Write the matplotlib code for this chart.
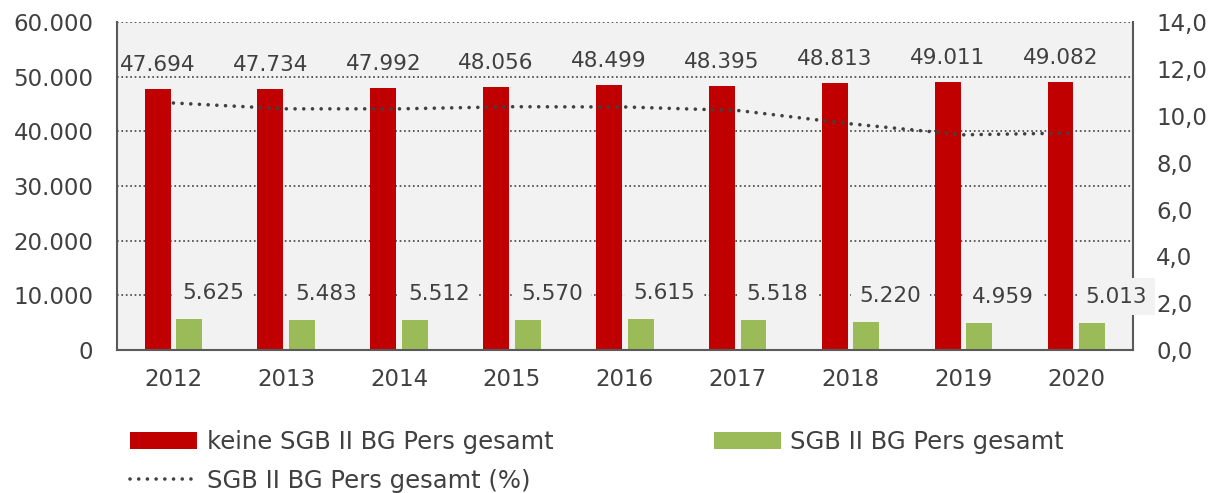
import matplotlib.pyplot as plt
from matplotlib.patches import Patch
from matplotlib.lines import Line2D
from matplotlib.ticker import FuncFormatter
import numpy as np

# Daten
years = ["2012", "2013", "2014", "2015", "2016", "2017", "2018", "2019", "2020"]
keine_sgb = [47694, 47734, 47992, 48056, 48499, 48395, 48813, 49011, 49082]
sgb = [5625, 5483, 5512, 5570, 5615, 5518, 5220, 4959, 5013]
sgb_pct = [10.55, 10.30, 10.30, 10.39, 10.38, 10.23, 9.66, 9.19, 9.27]

RED = "#C00000"
GREEN = "#9BBB59"
TXT = "#404040"
BG = "#F2F2F2"
DOTS = (0, (0.01, 2.4))

plt.rcParams["font.family"] = ["DejaVu Sans"]


def de_int(v, pos=None):
    return f"{int(v):,}".replace(",", ".")


def de_dec(v, pos=None):
    return f"{v:.1f}".replace(".", ",")


fig = plt.figure(figsize=(12.18, 4.93), dpi=100)
ax = fig.add_axes([0.096, 0.290, 0.834, 0.665])
ax.set_facecolor(BG)

x = np.arange(len(years))
w = 0.23
off = 0.14

ax.bar(x - off, keine_sgb, w, color=RED, zorder=2)
ax.bar(x + off, sgb, w, color=GREEN, zorder=2)

ax.set_xlim(-0.5, len(years) - 0.5)
ax.set_ylim(0, 60000)
ax.set_yticks(range(0, 60001, 10000))
ax.yaxis.set_major_formatter(FuncFormatter(de_int))
ax.set_xticks(x)
ax.set_xticklabels(years)
ax.grid(axis="y", linestyle=":", color=TXT, linewidth=1.2, zorder=1)
ax.set_axisbelow(True)

for s in ["left", "bottom", "right"]:
    ax.spines[s].set_color("#595959")
    ax.spines[s].set_linewidth(1.5)
ax.spines["top"].set_visible(False)
ax.tick_params(axis="both", length=0, labelsize=16.5, colors=TXT)
ax.tick_params(axis="y", pad=17)
ax.tick_params(axis="x", pad=13)

# Datenbeschriftungen
for i in range(len(years)):
    ax.annotate(de_int(keine_sgb[i]), (x[i] - off, keine_sgb[i]),
                xytext=(0, 24), textcoords="offset pixels",
                ha="center", va="center", fontsize=15.5, color=TXT, zorder=5)
    ax.annotate(de_int(sgb[i]), (x[i] + off, sgb[i]),
                xytext=(24, 26), textcoords="offset pixels",
                ha="center", va="center", fontsize=15.5, color=TXT, zorder=5,
                annotation_clip=False,
                bbox=dict(boxstyle="square,pad=0.4", facecolor=BG, edgecolor="none"))

# zweite Achse (%)
ax2 = ax.twinx()
ax2.plot(x, sgb_pct, linestyle=DOTS, color=TXT, linewidth=2.6,
         dash_capstyle="round")
ax2.set_ylim(0, 14)
ax2.set_yticks(np.arange(0, 14.1, 2))
ax2.yaxis.set_major_formatter(FuncFormatter(de_dec))
ax2.tick_params(axis="y", length=0, labelsize=16.5, colors=TXT, pad=17)
for s in ax2.spines.values():
    s.set_visible(False)

# Legende
handles = [
    Patch(facecolor=RED, edgecolor="none"),
    Line2D([0], [0], linestyle=DOTS, color=TXT, linewidth=2.6,
           dash_capstyle="round"),
    Patch(facecolor=GREEN, edgecolor="none"),
]
labels = ["keine SGB II BG Pers gesamt", "SGB II BG Pers gesamt (%)",
          "SGB II BG Pers gesamt"]
leg = fig.legend(handles, labels, ncol=2, loc="upper left",
                 bbox_to_anchor=(0.089, 0.172), frameon=False, fontsize=17.5,
                 handlelength=2.75, handleheight=0.7, handletextpad=0.4,
                 columnspacing=6.6, labelspacing=0.6)
for t in leg.get_texts():
    t.set_color(TXT)

fig.savefig("out.png", dpi=100)
